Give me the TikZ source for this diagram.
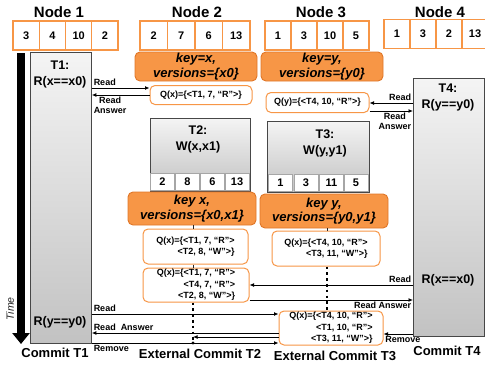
\documentclass[tikz,border=0pt]{standalone}
\usepackage{fontspec}
\setmainfont{Liberation Sans}
\usetikzlibrary{arrows.meta, positioning, calc}
\definecolor{txOrange}{HTML}{F79646}
\definecolor{txOrangeDk}{HTML}{E07628}
\definecolor{txInk}{HTML}{262626}
\definecolor{txGrayTop}{HTML}{F4F4F4}
\definecolor{txGrayBot}{HTML}{C2C2C2}

\begin{document}
\begin{tikzpicture}[x=1pt, y=-1pt,
  >={Latex[length=4.5pt,width=4pt]},
  hdr/.style={font=\fontsize{15}{17}\selectfont\bfseries, inner sep=0pt},
  cell/.style={draw=txOrange, line width=1.1pt, fill=white, minimum height=29pt,
               inner sep=0pt, font=\fontsize{11}{13}\selectfont\bfseries},
  icell/.style={draw=gray!70, line width=0.8pt, fill=white, minimum width=24pt,
                minimum height=17pt, inner sep=0pt, font=\fontsize{11}{13}\selectfont\bfseries},
  txn/.style={draw=txInk!85, line width=0.8pt, top color=txGrayTop,
              bottom color=txGrayBot, inner sep=0pt, anchor=north west},
  txt/.style={font=\fontsize{12.5}{16}\selectfont\bfseries, align=center, inner sep=0pt},
  keybox/.style={draw=txOrangeDk, line width=0.9pt, fill=txOrange, rounded corners=5pt,
                 inner sep=0pt, align=center, font=\fontsize{13}{14.5}\selectfont\bfseries\itshape},
  qbox/.style={draw=txOrange, line width=1pt, fill=white, rounded corners=5pt,
               inner sep=0pt, align=right, font=\fontsize{9}{11.5}\selectfont\bfseries},
  lbl/.style={font=\fontsize{9}{10}\selectfont\bfseries, inner sep=1.5pt},
  foot/.style={font=\fontsize{13}{15}\selectfont\bfseries, inner sep=0pt},
  msg/.style={->, line width=0.9pt},
  tick/.style={line width=0.8pt, draw=txInk},
  dotline/.style={line width=2.6pt, dash pattern=on 2.6pt off 3.2pt},
]
\useasboundingbox (0,0) rectangle (485,367);

% --- the four nodes and their clocks ---
\node[hdr] (h1) at (59,12) {Node 1};
\node[hdr] (h2) at (197,12) {Node 2};
\node[hdr] (h3) at (321,12) {Node 3};
\node[hdr] (h4) at (440,12) {Node 4};

\foreach \v [count=\i] in {3,4,10,2}
  \node[cell, minimum width=26.25pt] (na\i) at ({13+26.25*(\i-0.5)},35.5) {\v};
\foreach \v [count=\i] in {2,7,6,13}
  \node[cell, minimum width=27.5pt] (nb\i) at ({140+27.5*(\i-0.5)},35.5) {\v};
\foreach \v [count=\i] in {1,3,10,5}
  \node[cell, minimum width=26pt] (nc\i) at ({265+26*(\i-0.5)},35.5) {\v};
\foreach \v [count=\i] in {1,3,2,13}
  \node[cell, minimum width=26pt] (nd\i) at ({384+26*(\i-0.5)},34) {\v};

% --- time axis ---
\coordinate (tm0) at (21,53);
\coordinate (tm1) at (21,344);
\draw[line width=8pt, -{Triangle[width=17pt,length=11pt]}] (tm0) -- (tm1);
\node[font=\fontsize{10.5}{12}\selectfont\itshape, text=txInk, rotate=90] (tlab) at (10,309) {Time};

% --- transactions ---
\node[txn, minimum width=61pt, minimum height=291pt] (t1) at (30,52) {};
\node[txt] (t1a) at (60,74.5) {T1:\\R(x==x0)};
\node[txt] (t1b) at (60,322) {R(y==y0)};

\node[txn, minimum width=71pt, minimum height=258pt] (t4) at (413,78) {};
\node[txt] (t4a) at (448,97) {T4:\\R(y==y0)};
\node[txt] (t4b) at (448,280) {R(x==x0)};

\node[txn, minimum width=100pt, minimum height=73pt] (t2) at (150,118) {};
\node[txt] (t2a) at (198,139) {T2:\\W(x,x1)};
\foreach \v/\cx [count=\i] in {2/162.5, 8/187.5, 6/212.5, 13/237}
  \node[icell] (tb\i) at (\cx,182) {\v};

\node[txn, minimum width=102pt, minimum height=71pt] (t3) at (267,121) {};
\node[txt] (t3a) at (325,143) {T3:\\W(y,y1)};
\foreach \v/\cx [count=\i] in {1/280.5, 3/306, 11/331.5, 5/356}
  \node[icell] (tc\i) at (\cx,182.5) {\v};

% --- key records ---
\node[keybox, minimum width=122pt, minimum height=29pt] (ka) at (196,66.5) {key=x,\\versions=\{x0\}};
\node[keybox, minimum width=122pt, minimum height=29pt] (kb) at (322,66.5) {key=y,\\versions=\{y0\}};
\node[keybox, minimum width=128pt, minimum height=33pt] (kc) at (192,208.5) {key x,\\versions=\{x0,x1\}};
\node[keybox, minimum width=128pt, minimum height=34pt] (kd) at (324,211) {key y,\\versions=\{y0,y1\}};

% --- read queues ---
\node[qbox, minimum width=102pt, minimum height=19pt] (qxa) at (201,95) {Q(x)=\{<T1, 7, “R”>\}};
\node[qbox, minimum width=103pt, minimum height=20pt] (qya) at (317.5,102.5) {Q(y)=\{<T4, 10, “R”>\}};
\node[qbox, minimum width=105pt, minimum height=35pt] (qxb) at (195.5,246.5)
  {Q(x)=\{<T1, 7, “R”>\\<T2, 8, “W”>\}};
\node[qbox, minimum width=106pt, minimum height=34pt] (qxc) at (196,285)
  {Q(x)=\{<T1, 7, “R”>\\<T4, 7, “R”>\\<T2, 8, “W”>\}};
\node[qbox, minimum width=108pt, minimum height=35pt] (qyb) at (326,248.5)
  {Q(x)=\{<T4, 10, “R”>\\<T3, 11, “W”>\}};
\node[qbox, minimum width=104pt, minimum height=34pt] (qd) at (331,328)
  {Q(x)=\{<T4, 10, “R”>\\<T1, 10, “R”>\\<T3, 11, “W”>\}};

% --- external commit marks ---
\coordinate (e2) at (193,343);
\coordinate (e3) at (327,0);
\draw[tick] (kc.south -| e2) -- (qxb.north -| e2);
\draw[tick] (qxb.south -| e2) -- (qxc.north -| e2);
\draw[tick] (kd.south -| e3) -- (qyb.north -| e3);
\draw[dotline] (qxc.south -| e2) -- (e2);
\draw[dotline] (qyb.south -| e3) -- (qd.north -| e3);

% --- messages ---
\draw[msg] (t1.east |- 0,88) node[lbl, above right] {Read} -- (qxa.west |- 0,88);
\draw[msg] (qxa.west |- 0,95) -- (t1.east |- 0,95) node[lbl, below right, align=center] {Read\\Answer};
\draw[msg] (t4.west |- 0,103) node[lbl, above left] {Read} -- (qya.east |- 0,103);
\draw[msg] (qya.east |- 0,111) -- (t4.west |- 0,111) node[lbl, below left, align=center] {Read\\Answer};
\draw[msg] (t4.west |- 0,285) node[lbl, above left] {Read} -- (qxc.east |- 0,285);
\draw[msg] (qxc.east |- 0,300) -- (t4.west |- 0,300) node[lbl, below left] {Read Answer};
\draw[msg] (t1.east |- 0,314) node[lbl, above right] {Read} -- (qd.west |- 0,314);
\draw[msg] (qd.west |- 0,333) -- (t1.east |- 0,333) node[lbl, above right] {Read\ \ Answer};
\draw[msg] (qd.west |- 0,337) -- (e2 |- 0,337);
\draw[msg] (t1.east |- 0,343) node[lbl, below right] {Remove} -- (qd.west |- 0,343);
\draw[msg] (t4.west |- 0,334) -- (qd.east |- 0,334) node[lbl, below right] {Remove};
\fill (e2) circle (1.6pt);

% --- commit points ---
\node[foot] (c1) at (55,353) {Commit T1};
\node[foot] (c2) at (200,354) {External Commit T2};
\node[foot] (c3) at (335,356) {External Commit T3};
\node[foot] (c4) at (447,351) {Commit T4};
\end{tikzpicture}
\end{document}
